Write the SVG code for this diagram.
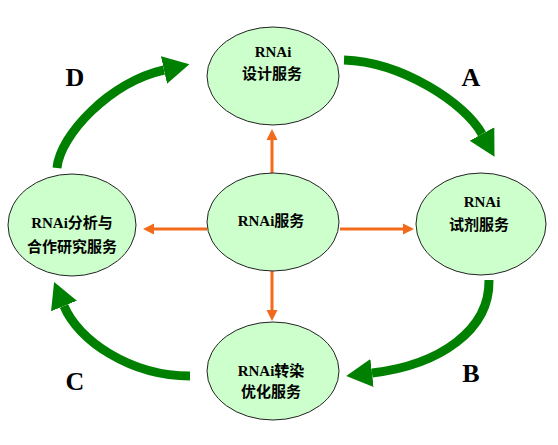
<svg xmlns="http://www.w3.org/2000/svg" width="558" height="445" viewBox="0 0 558 445">
<style>
.node ellipse{fill:#ccffcc;stroke:#222;stroke-width:1}
.t{font-family:"Liberation Serif","Noto Sans CJK SC",serif;font-weight:bold;font-size:15px;fill:#000;text-anchor:middle}
.lbl{font-family:"Liberation Serif",serif;font-weight:bold;font-size:26px;fill:#000;text-anchor:middle}
.g{fill:none;stroke:#008000;stroke-width:9;marker-end:url(#gh)}
.o{fill:none;stroke:#f26b1d;stroke-width:3;marker-end:url(#oh)}
</style>
<defs>
<marker id="gh" markerUnits="userSpaceOnUse" viewBox="0 -15 28 30" refX="0" refY="0" markerWidth="28" markerHeight="30" orient="auto">
<path d="M0,-14 L26,0 L0,14 Z" fill="#008000"/>
</marker>
<marker id="oh" markerUnits="userSpaceOnUse" viewBox="0 -6 11 12" refX="1" refY="0" markerWidth="11" markerHeight="12" orient="auto">
<path d="M0,-5.5 L11,0 L0,5.5 Z" fill="#f26b1d"/>
</marker>
</defs>
<g id="connectors">
<path class="g" d="M344,60 C402,62 465,103 482,134"/>
<path class="g" d="M57,168 C60,135 110,82 164,70"/>
<path class="g" d="M190,376 C130,376 78,340 64,306"/>
<path class="g" d="M489,280 C490,330 440,365 372,373"/>
<path class="o" d="M272,173 L272,139"/>
<path class="o" d="M272,271 L272,311"/>
<path class="o" d="M207,229 L153,229"/>
<path class="o" d="M340,229 L404,229"/>
</g>
<g id="node-top" class="node">
<ellipse cx="273" cy="76" rx="66" ry="49"/>
<text class="t" x="273" y="57">RNAi</text>
<text class="t" x="272" y="79">设计服务</text>
</g>
<g id="node-center" class="node">
<ellipse cx="273" cy="222" rx="66" ry="49"/>
<text class="t" x="271" y="226">RNAi服务</text>
</g>
<g id="node-left" class="node">
<ellipse cx="72" cy="225" rx="64" ry="51"/>
<text class="t" x="72" y="228">RNAi分析与</text>
<text class="t" x="72" y="252">合作研究服务</text>
</g>
<g id="node-right" class="node">
<ellipse cx="481" cy="224" rx="65" ry="51"/>
<text class="t" x="482" y="207">RNAi</text>
<text class="t" x="479" y="230">试剂服务</text>
</g>
<g id="node-bottom" class="node">
<ellipse cx="273" cy="371" rx="66" ry="49"/>
<text class="t" x="271" y="376">RNAi转染</text>
<text class="t" x="271" y="397">优化服务</text>
</g>
<g id="labels">
<text class="lbl" x="471" y="86">A</text>
<text class="lbl" x="471" y="382">B</text>
<text class="lbl" x="75" y="390">C</text>
<text class="lbl" x="75" y="86">D</text>
</g>
</svg>
